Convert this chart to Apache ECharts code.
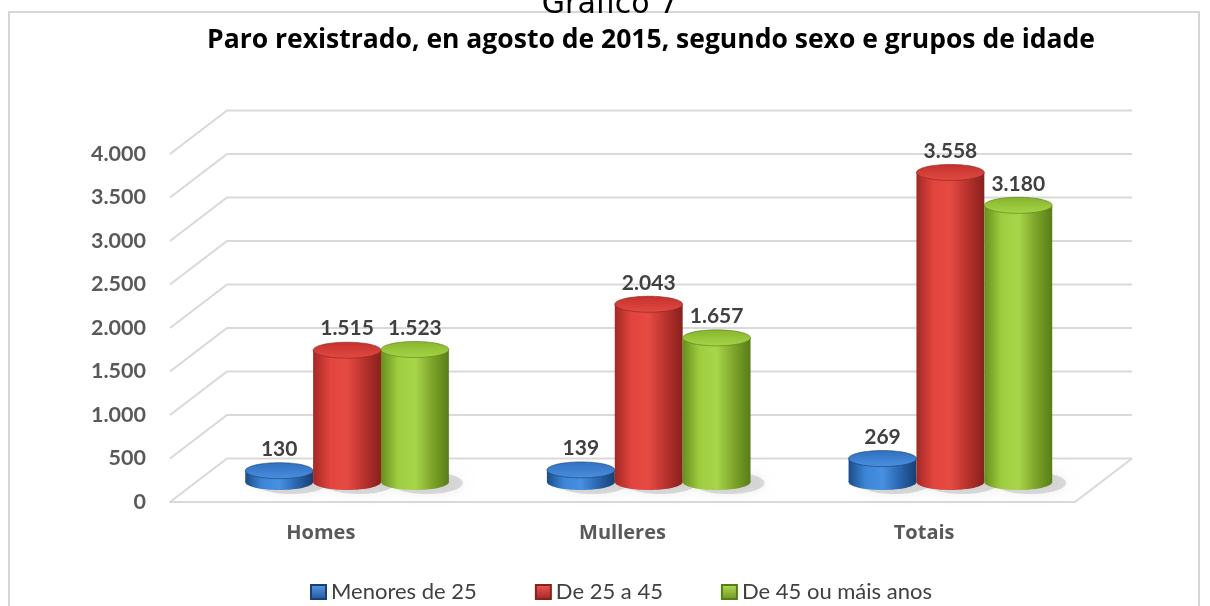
<!DOCTYPE html>
<html>
<head>
<meta charset="utf-8">
<script src="https://cdn.jsdelivr.net/npm/echarts@6/dist/echarts.min.js"></script>
<style>
  html, body { margin: 0; padding: 0; background: #fff; }
  #chart { width: 1210px; height: 606px; }
</style>
</head>
<body>
<div id="chart"></div>
<script>
const categories = ['Homes', 'Mulleres', 'Totais'];
const seriesNames = ['Menores de 25', 'De 25 a 45', 'De 45 ou máis anos'];
const menores25 = [130, 139, 269];
const de25a45 = [1515, 2043, 3558];
const de45mais = [1523, 1657, 3180];
const yTicks = [0, 500, 1000, 1500, 2000, 2500, 3000, 3500, 4000];

const seriesValues = [menores25, de25a45, de45mais];

// shading for the cylinders: body (left to right), top cap, legend swatch
const palettes = [
  { body: ['#1c4c88', '#3c86d8', '#4890e0', '#2a66b0', '#173f72'], top: ['#2f6fbf', '#4a8fdd'], swatch: ['#5b9be6', '#1f5699'] },
  { body: ['#a32824', '#e2453e', '#e54a43', '#b8322d', '#88201d'], top: ['#c4312c', '#e24a43'], swatch: ['#ee5a52', '#a02622'] },
  { body: ['#668f1e', '#9fcd40', '#a8d64a', '#7ea52a', '#587d18'], top: ['#86b52e', '#a6d447'], swatch: ['#b4e055', '#6a9420'] }
];

const DEPTH_X = 57;
const DEPTH_Y = 43.5;
const BAR_SHIFT = 0.46;
const GRID_COLOR = '#d9d9d9';

function fmt(v) {
  return String(v).replace(/\B(?=(\d{3})+(?!\d))/g, '.');
}

function lin(colors, vertical) {
  const n = colors.length - 1;
  return new echarts.graphic.LinearGradient(0, 0, vertical ? 0 : 1, vertical ? 1 : 0,
    colors.map((c, i) => ({ offset: i / n, color: c })));
}

function wallItem(params, api) {
  const cs = params.coordSys;
  const v = api.value(1);
  const y = api.coord([0, v])[1];
  const children = [{
    type: 'polyline',
    shape: { points: [[cs.x, y], [cs.x + DEPTH_X, y - DEPTH_Y], [cs.x + cs.width + DEPTH_X, y - DEPTH_Y]] },
    style: { stroke: GRID_COLOR, lineWidth: 2, fill: null }
  }];
  if (v === 0) {
    children.push({
      type: 'line',
      shape: { x1: cs.x + cs.width, y1: y, x2: cs.x + cs.width + DEPTH_X, y2: y - DEPTH_Y },
      style: { stroke: GRID_COLOR, lineWidth: 2 }
    });
  }
  return { type: 'group', children };
}

function cylinderItem(sIdx) {
  const pal = palettes[sIdx];
  return function (params, api) {
    const ci = api.value(0);
    const v = api.value(1);
    const base = api.coord([ci, 0]);
    const top = api.coord([ci, v]);
    const band = api.size([1, 0])[0];
    const w = band * 0.225;
    const rx = w / 2;
    const ry = 8;
    const cx = base[0] + (sIdx - 1) * w + DEPTH_X * BAR_SHIFT;
    const by = base[1] - DEPTH_Y * BAR_SHIFT;
    const ty = top[1] - DEPTH_Y * BAR_SHIFT;
    return {
      type: 'group',
      children: [
        {
          type: 'ellipse',
          shape: { cx: cx + 12, cy: by + 1, rx: rx + 2, ry: ry + 3 },
          style: { fill: 'rgba(90,90,90,0.2)', shadowBlur: 12, shadowColor: 'rgba(0,0,0,0.3)' }
        },
        {
          type: 'ellipse',
          shape: { cx: cx, cy: by, rx: rx, ry: ry },
          style: { fill: lin(pal.body, false) }
        },
        {
          type: 'rect',
          shape: { x: cx - rx, y: ty, width: w, height: by - ty },
          style: { fill: lin(pal.body, false) }
        },
        {
          type: 'ellipse',
          shape: { cx: cx, cy: ty, rx: rx, ry: ry },
          style: { fill: lin(pal.top, true), stroke: pal.body[4], lineWidth: 0.6 }
        },
        {
          type: 'text',
          style: {
            text: fmt(v), x: cx, y: ty - ry - 3,
            align: 'center', verticalAlign: 'bottom',
            fontFamily: 'Lato', fontWeight: 'bold', fontSize: 21, fill: '#404040'
          }
        }
      ]
    };
  };
}

const chart = echarts.init(document.getElementById('chart'));

chart.setOption({
  backgroundColor: '#fff',
  animation: false,
  graphic: [
    {
      type: 'rect', shape: { x: 9, y: 12, width: 1190, height: 600 },
      style: { fill: null, stroke: '#d6d6d6', lineWidth: 2 }, silent: true
    },
    {
      type: 'text', x: 610, y: 20,
      style: { text: 'Gráfico 7', align: 'center', verticalAlign: 'bottom', fontFamily: 'DejaVu Sans', fontSize: 30, fill: '#000' }
    },
    {
      type: 'text', x: 651, y: 40,
      style: {
        text: 'Paro rexistrado, en agosto de 2015, segundo sexo e grupos de idade',
        align: 'center', verticalAlign: 'middle',
        fontFamily: 'Open Sans', fontWeight: 'bold', fontSize: 26.5, fill: '#000'
      }
    }
  ],
  legend: {
    data: seriesNames,
    top: 576,
    left: 305,
    icon: 'rect',
    itemWidth: 15,
    itemHeight: 14,
    itemGap: 58,
    textStyle: { fontFamily: 'Lato', fontSize: 22, color: '#404040' }
  },
  grid: { left: 170, right: 135, top: 154, bottom: 104 },
  xAxis: {
    type: 'category',
    data: categories,
    axisLine: { lineStyle: { color: GRID_COLOR, width: 2 } },
    axisTick: { show: false },
    axisLabel: { margin: 21, fontFamily: 'Open Sans', fontWeight: 'bold', fontSize: 20, color: '#595959' }
  },
  yAxis: {
    type: 'value',
    min: yTicks[0],
    max: yTicks[yTicks.length - 1],
    interval: yTicks[1] - yTicks[0],
    axisLine: { show: false },
    axisTick: { show: false },
    splitLine: { show: false },
    axisLabel: { margin: 24, fontFamily: 'Lato', fontWeight: 'bold', fontSize: 21.5, color: '#595959', formatter: fmt }
  },
  series: [
    {
      type: 'custom',
      name: 'walls',
      silent: true,
      z: 1,
      renderItem: wallItem,
      data: yTicks.map(v => [0, v])
    }
  ].concat(seriesNames.map((name, s) => ({
    type: 'custom',
    name: name,
    z: 2,
    itemStyle: { color: lin(palettes[s].swatch, true), borderColor: palettes[s].body[4], borderWidth: 1 },
    renderItem: cylinderItem(s),
    encode: { x: 0, y: 1 },
    data: seriesValues[s].map((v, i) => [i, v])
  })))
});
</script>
</body>
</html>
